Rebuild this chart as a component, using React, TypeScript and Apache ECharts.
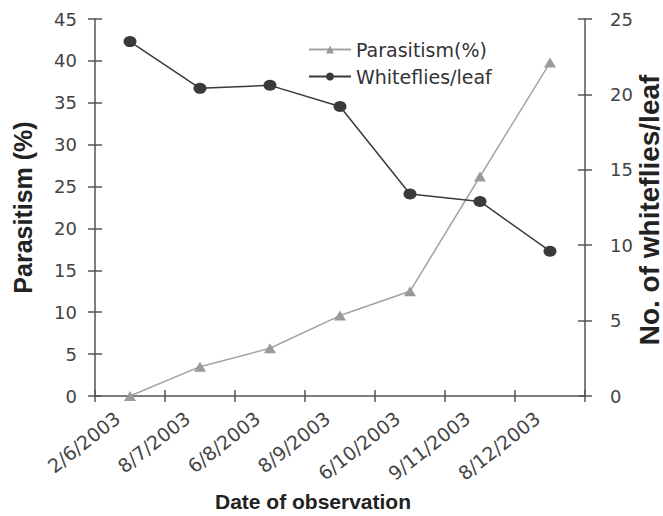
import React, { useEffect, useRef } from 'react';
import * as echarts from 'echarts';

const categories = ['2/6/2003', '8/7/2003', '6/8/2003', '8/9/2003', '6/10/2003', '9/11/2003', '8/12/2003'];
const parasitism = [0, 3.5, 5.7, 9.6, 12.5, 26.2, 39.8];
const whiteflies = [23.5, 20.4, 20.6, 19.2, 13.4, 12.9, 9.6];
const leftMax = 45;
const rightMax = 25;
const tickStep = 5;

const AXIS = '#555555';
const tickFont = { fontFamily: 'DejaVu Sans', fontSize: 18, color: '#444444' };
const titleFont = { fontFamily: 'Liberation Sans', fontWeight: 'bold' as const, color: '#222222' };

export default function App() {
  const ref = useRef<HTMLDivElement>(null);
  useEffect(() => {
    if (!ref.current) return;
    const chart = echarts.init(ref.current, undefined, { renderer: 'svg' });
    const lineStyle = { color: AXIS, width: 1.5 };
    chart.setOption({
      animation: false,
      backgroundColor: '#ffffff',
      grid: { left: 95, right: 78, top: 19, bottom: 120, outerBoundsMode: 'none', containLabel: false },
      legend: {
        orient: 'vertical',
        left: 303,
        top: 35,
        itemWidth: 42,
        itemHeight: 10,
        itemGap: 8,
        textStyle: { fontFamily: 'DejaVu Sans', fontSize: 19, color: '#333333' },
        data: ['Parasitism(%)', 'Whiteflies/leaf'],
      },
      xAxis: [
        {
          type: 'category',
          data: categories,
          boundaryGap: true,
          axisLine: { show: true, lineStyle },
          axisTick: { show: true, length: 6, lineStyle },
          axisLabel: { rotate: 38, margin: 10, padding: [0, 16, 0, 0], interval: 0, ...tickFont, fontSize: 19 },
          splitLine: { show: false },
        },
        {
          type: 'category',
          data: categories,
          position: 'bottom',
          offset: 0,
          boundaryGap: true,
          axisLine: { show: false },
          axisTick: { show: true, inside: true, length: 6, lineStyle },
          axisLabel: { show: false },
          splitLine: { show: false },
        },
      ],
      yAxis: [
        {
          type: 'value',
          min: 0,
          max: leftMax,
          interval: tickStep,
          position: 'left',
          name: 'Parasitism (%)',
          nameLocation: 'middle',
          nameRotate: 90,
          nameGap: 60,
          nameMoveOverlap: false,
          nameTextStyle: { ...titleFont, fontSize: 25 },
          axisLine: { show: true, lineStyle },
          axisTick: { show: true, length: 7, lineStyle },
          axisLabel: { margin: 18, ...tickFont },
          splitLine: { show: false },
        },
        {
          type: 'value',
          min: 0,
          max: rightMax,
          interval: tickStep,
          position: 'right',
          axisLine: { show: true, lineStyle },
          axisTick: { show: true, length: 7, lineStyle },
          axisLabel: { margin: 25, ...tickFont },
          splitLine: { show: false },
        },
        {
          type: 'value',
          min: 0,
          max: leftMax,
          interval: tickStep,
          position: 'left',
          offset: 0,
          axisLine: { show: false },
          axisTick: { show: true, inside: true, length: 7, lineStyle },
          axisLabel: { show: false },
          splitLine: { show: false },
        },
        {
          type: 'value',
          min: 0,
          max: rightMax,
          interval: tickStep,
          position: 'right',
          offset: 0,
          axisLine: { show: false },
          axisTick: { show: true, inside: true, length: 7, lineStyle },
          axisLabel: { show: false },
          splitLine: { show: false },
        },
      ],
      graphic: [
        {
          type: 'text',
          x: 313,
          y: 501,
          style: {
            text: 'Date of observation',
            textAlign: 'center',
            textVerticalAlign: 'middle',
            fontFamily: 'Liberation Sans',
            fontWeight: 'bold',
            fontSize: 21,
            fill: '#222222',
          },
        },
        {
          type: 'text',
          x: 649,
          y: 210,
          rotation: Math.PI / 2,
          style: {
            text: 'No. of whiteflies/leaf',
            textAlign: 'center',
            textVerticalAlign: 'middle',
            fontFamily: 'Liberation Sans',
            fontWeight: 'bold',
            fontSize: 28,
            fill: '#222222',
          },
        },
      ],
      series: [
        {
          name: 'Parasitism(%)',
          type: 'line',
          yAxisIndex: 0,
          data: parasitism,
          symbol: 'triangle',
          symbolSize: [12, 10],
          lineStyle: { color: '#a3a3a3', width: 1.5 },
          itemStyle: { color: '#9a9a9a' },
          z: 2,
        },
        {
          name: 'Whiteflies/leaf',
          type: 'line',
          yAxisIndex: 1,
          data: whiteflies,
          symbol: 'circle',
          symbolSize: [13, 11],
          lineStyle: { color: '#3a3a3a', width: 1.5 },
          itemStyle: { color: '#3a3a3a' },
          z: 3,
        },
      ],
    });
    return () => chart.dispose();
  }, []);
  return (
    <div
      ref={ref}
      style={{ position: 'absolute', left: 0, top: 0, width: 663, height: 516, background: '#fff' }}
    />
  );
}
